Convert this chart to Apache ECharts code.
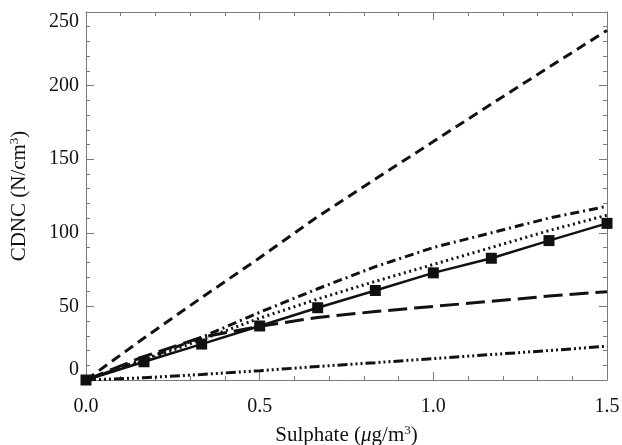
<!DOCTYPE html>
<html>
<head>
<meta charset="utf-8">
<script src="https://cdn.jsdelivr.net/npm/echarts@6/dist/echarts.min.js"></script>
<style>
html, body { margin: 0; padding: 0; background: #fff; }
#chart { width: 622px; height: 445px; }
</style>
</head>
<body>
<div id="chart"></div>
<script>
// sulphate (ug/m3) sample points
var sulphate = [0.0, 0.167, 0.333, 0.5, 0.667, 0.833, 1.0, 1.167, 1.333, 1.5];

// CDNC curves
var shortDash = [0, 28.5, 56, 83, 111, 136.5, 162, 187.5, 212.5, 237.5];
var dashDot = [0, 14, 29, 46, 62, 77, 90, 100, 110, 118];
var dotted = [0, 13, 27.5, 42, 55, 67, 78.5, 90, 101.5, 112];
var squares = [0, 12.4, 24.4, 36.7, 49.1, 60.8, 72.8, 82.7, 94.7, 106.4];
var longDash = [0, 16, 29, 36.5, 42.5, 46.5, 50, 53.5, 57, 60];
var dashDotDot = [0, 1.5, 3.8, 6.3, 9.2, 11.8, 14.5, 17.3, 20, 23];

var xTicks = [0.0, 0.5, 1.0, 1.5];
var yTicks = [0, 50, 100, 150, 200, 250];

var FONT = '"Liberation Serif", "DejaVu Serif", serif';
var AXIS_COLOR = '#7a7a7a';
var INK = '#111';

function pairs(ys) {
    return sulphate.map(function (x, i) { return [x, ys[i]]; });
}

function frameAxis(base, pos, labelled) {
    return Object.assign({
        type: 'value',
        position: pos,
        axisLine: { show: true, onZero: false, lineStyle: { color: AXIS_COLOR, width: 1 } },
        axisTick: { show: true, inside: true, length: 8, lineStyle: { color: AXIS_COLOR } },
        minorTick: { show: true, splitNumber: 5, length: 4, lineStyle: { color: AXIS_COLOR } },
        splitLine: { show: false },
        minorSplitLine: { show: false },
        axisLabel: { show: labelled }
    }, base);
}

var xBase = { min: xTicks[0], max: xTicks[xTicks.length - 1], interval: xTicks[1] - xTicks[0] };
var yBase = { min: yTicks[0], max: yTicks[yTicks.length - 1], interval: yTicks[1] - yTicks[0] };

var chart = echarts.init(document.getElementById('chart'));

var bottomAxis = frameAxis(xBase, 'bottom', true);
bottomAxis.axisLabel = {
    show: true, margin: 17, fontFamily: FONT, fontSize: 20, color: INK,
    formatter: function (v) { return v.toFixed(1); }
};
bottomAxis.name = 'Sulphate ({i|\u03bc}g/m{sup|3})';
bottomAxis.nameLocation = 'middle';
bottomAxis.nameGap = 44;
bottomAxis.nameTextStyle = {
    fontFamily: FONT, fontSize: 21, color: INK,
    rich: {
        i: { fontFamily: FONT, fontSize: 21, fontStyle: 'italic', color: INK },
        sup: { fontFamily: FONT, fontSize: 13, color: INK, verticalAlign: 'top', padding: [0, 0, 9, 0] }
    }
};

var leftAxis = frameAxis(yBase, 'left', true);
leftAxis.axisLabel = {
    show: true, margin: 7, fontFamily: FONT, fontSize: 20, color: INK,
    verticalAlignMinLabel: 'bottom', verticalAlignMaxLabel: 'top'
};
leftAxis.name = 'CDNC (N/cm{sup|3})';
leftAxis.nameLocation = 'middle';
leftAxis.nameGap = 56;
leftAxis.nameTextStyle = {
    fontFamily: FONT, fontSize: 21, color: INK,
    rich: {
        sup: { fontFamily: FONT, fontSize: 13, color: INK, verticalAlign: 'top', padding: [0, 0, 9, 0] }
    }
};

option = {
    backgroundColor: '#fff',
    animation: false,
    grid: { left: 86, right: 15, top: 12, bottom: 65, containLabel: false, outerBoundsMode: 'none' },
    xAxis: [bottomAxis, frameAxis(xBase, 'top', false)],
    yAxis: [leftAxis, frameAxis(yBase, 'right', false)],
    series: [
        {
            type: 'line', data: pairs(shortDash), symbol: 'none',
            lineStyle: { color: INK, width: 3, type: [10, 6] }
        },
        {
            type: 'line', data: pairs(dashDot), symbol: 'none',
            lineStyle: { color: INK, width: 3, type: [9, 4, 2, 4] }
        },
        {
            type: 'line', data: pairs(dotted), symbol: 'none',
            lineStyle: { color: INK, width: 3, type: [2, 3.5] }
        },
        {
            type: 'line', data: pairs(squares), symbol: 'rect', symbolSize: 11,
            itemStyle: { color: INK },
            lineStyle: { color: INK, width: 2.5, type: 'solid' }
        },
        {
            type: 'line', data: pairs(longDash), symbol: 'none',
            lineStyle: { color: INK, width: 3, type: [19, 7] }
        },
        {
            type: 'line', data: pairs(dashDotDot), symbol: 'none',
            lineStyle: { color: INK, width: 3, type: [10, 3, 2, 3, 2, 3, 2, 3] }
        }
    ]
};
option && chart.setOption(option);
</script>
</body>
</html>
